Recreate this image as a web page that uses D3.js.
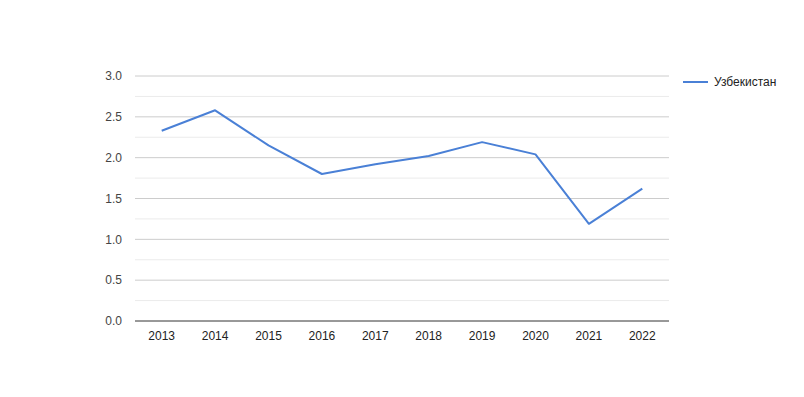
<!DOCTYPE html>
<html><head><meta charset="utf-8">
<script src="https://cdn.jsdelivr.net/npm/d3@7"></script>
<style>body{margin:0;background:#fff;}svg{display:block;font-family:"Liberation Sans",Arial,sans-serif;}</style>
</head><body>
<svg id="c" width="804" height="397"></svg>
<script>
const years = ["2013","2014","2015","2016","2017","2018","2019","2020","2021","2022"];
const values = [2.33, 2.58, 2.15, 1.80, 1.92, 2.02, 2.19, 2.04, 1.19, 1.62];
const seriesName = "Узбекистан";
const yTicks = [0, 0.5, 1.0, 1.5, 2.0, 2.5, 3.0];
const yMinorTicks = [0.25, 0.75, 1.25, 1.75, 2.25, 2.75];

const svg = d3.select("#c");
const L = 135, R = 669, T = 76, B = 321;
const x = d3.scaleBand().domain(years).range([L, R]);
const y = d3.scaleLinear().domain([0, 3]).range([B, T]);

svg.append("g").selectAll("line").data(yMinorTicks).join("line")
  .attr("x1", L).attr("x2", R).attr("y1", d => y(d)).attr("y2", d => y(d))
  .attr("stroke", "#ebebeb").attr("stroke-width", 1);
svg.append("g").selectAll("line").data(yTicks.filter(d => d > 0)).join("line")
  .attr("x1", L).attr("x2", R).attr("y1", d => y(d)).attr("y2", d => y(d))
  .attr("stroke", "#cccccc").attr("stroke-width", 1);

svg.append("g").selectAll("text").data(yTicks).join("text")
  .attr("x", 122).attr("y", d => y(d)).attr("dy", "0.35em")
  .attr("text-anchor", "end").attr("font-size", 12).attr("fill", "#444")
  .text(d => d.toFixed(1));

svg.append("g").selectAll("text").data(years).join("text")
  .attr("x", d => x(d) + x.bandwidth() / 2).attr("y", 336).attr("dy", "0.35em")
  .attr("text-anchor", "middle").attr("font-size", 12).attr("fill", "#222")
  .text(d => d);

svg.append("line").attr("x1", L).attr("x2", R).attr("y1", y(0)).attr("y2", y(0))
  .attr("stroke", "#333").attr("stroke-width", 1);

const line = d3.line().x((d, i) => x(years[i]) + x.bandwidth() / 2).y(d => y(d));
svg.append("path").datum(values).attr("d", line)
  .attr("fill", "none").attr("stroke", "#4a80d6").attr("stroke-width", 2)
  .attr("stroke-linejoin", "round");

svg.append("line").attr("x1", 683).attr("x2", 708).attr("y1", 82).attr("y2", 82)
  .attr("stroke", "#4a80d6").attr("stroke-width", 2);
svg.append("text").attr("x", 714).attr("y", 82).attr("dy", "0.35em")
  .attr("font-size", 12).attr("fill", "#222").text(seriesName);
</script>
</body></html>
